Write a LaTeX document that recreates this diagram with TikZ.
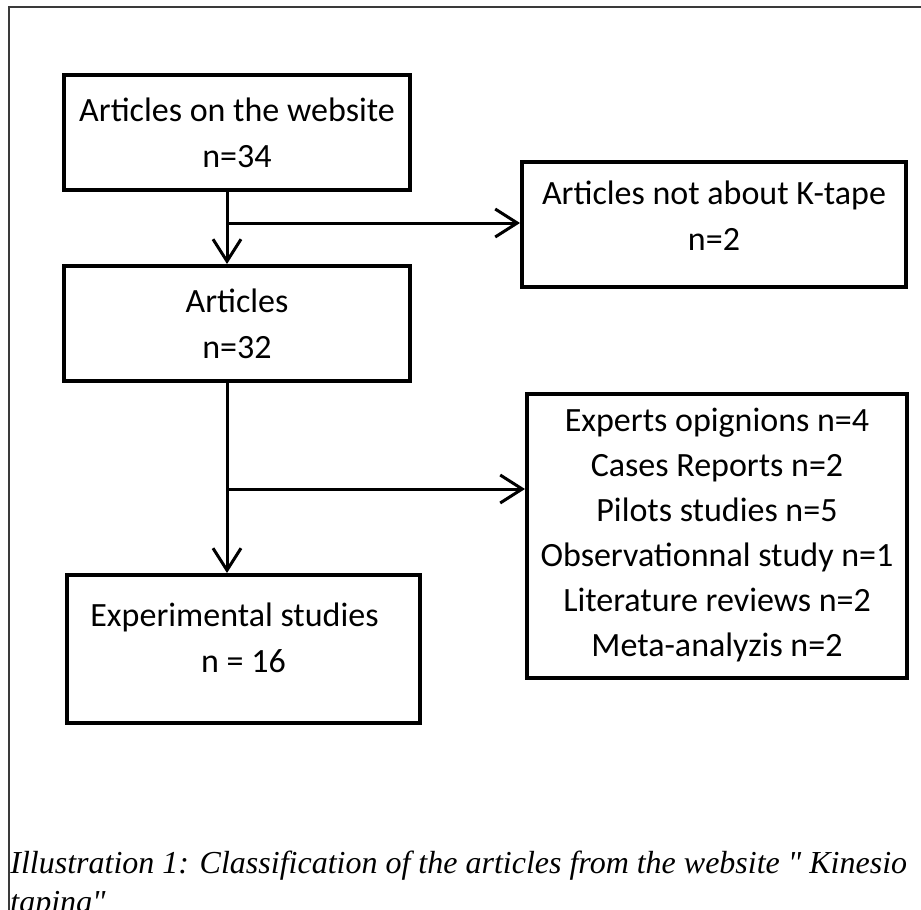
\documentclass[tikz,border=0pt]{standalone}
\usepackage{fontspec}
\setmainfont{Carlito}
\newfontfamily\capfont{Liberation Serif}
\usetikzlibrary{positioning,arrows.meta,calc}
\definecolor{Frame}{HTML}{3A3A3A}

\begin{document}
\begin{tikzpicture}[x=0.5pt,y=-0.5pt,
  box/.style={draw,line width=2pt,align=center,inner sep=2pt,font=\fontsize{17}{23}\selectfont},
  link/.style={-{Straight Barb[length=11pt,width=14pt]},line width=1.5pt}]
\useasboundingbox (0,0) rectangle (921,910);
\clip (0,0) rectangle (921,910);
\fill[white] (0,0) rectangle (921,910);
\draw[Frame,line width=0.8pt] (921,7) -- (9,7) -- (9,910);
% boxes
\node[box,minimum width=173pt,minimum height=57.5pt] (web) at (237,132.5) {Articles on the website\\n=34};
\node[box,minimum width=173pt,minimum height=57.5pt,below=36pt of web] (art) {Articles\\n=32};
\node[box,minimum width=192pt,minimum height=62.5pt,right=54pt of web,yshift=-46pt] (offtopic) {Articles not about K-tape\\n=2\\[-14pt]\mbox{}};
\node[box,minimum width=190pt,minimum height=142pt,right=56.5pt of art,yshift=-106pt,font=\fontsize{17}{22.5}\selectfont] (kinds) {Experts opignions n=4\\Cases Reports n=2\\Pilots studies n=5\\Observationnal study n=1\\Literature reviews n=2\\Meta-analyzis n=2};
\node[box,minimum width=176.5pt,minimum height=74pt,below=95pt of art,xshift=3.25pt] (exp) {Experimental studies\hspace*{9pt}\\n = 16\hspace*{9pt}\\[-12pt]\mbox{}};
% connectors
\coordinate (split1) at ($(web.south)+(-5pt,-15.5pt)$);
\coordinate (split2) at ($(art.south)+(-5pt,-53pt)$);
\draw[link] ($(web.south)+(-5pt,0)$) -- ($(art.north)+(-5pt,0)$);
\draw[link] (split1) -- (split1 -| offtopic.west);
\draw[link] ($(art.south)+(-5pt,0)$) -- (split2 |- exp.north);
\draw[link] (split2) -- (split2 -| kinds.west);
% caption
\node[anchor=north west,inner sep=0pt,align=left,font=\capfont\itshape\fontsize{16}{19.5}\selectfont] (cap) at (10,851) {Illustration 1: Classification of the articles from the website " Kinesio\\taping"};
\end{tikzpicture}
\end{document}
